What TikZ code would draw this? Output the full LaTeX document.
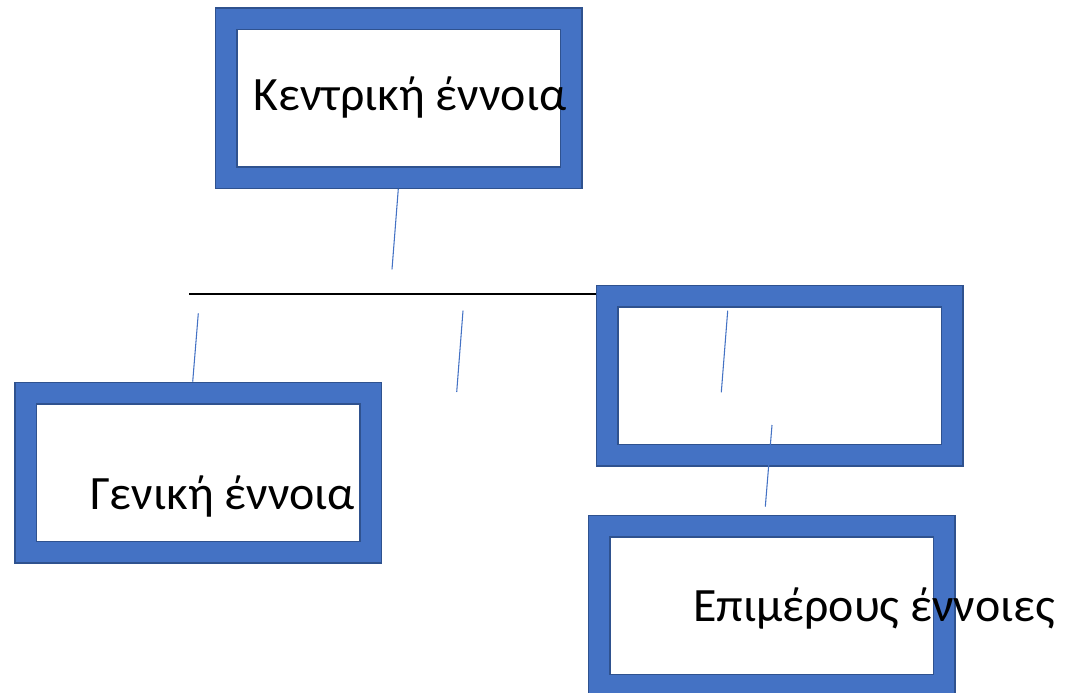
\documentclass[tikz,border=0pt]{standalone}
\usepackage{fontspec}
\setmainfont{Carlito}
\definecolor{boxblue}{HTML}{4472C4}
\definecolor{boxedge}{HTML}{2F528F}
\tikzset{
  conceptbox/.style={rectangle, draw=boxedge, line width=1.125pt, double=boxblue,
    double distance=15pt, fill=white, minimum width=258.75pt, minimum height=119.25pt,
    inner sep=0pt, outer sep=0pt},
  label/.style={anchor=base west, inner sep=0pt, outer sep=0pt,
    font=\fontsize{35.9}{43}\selectfont, text=black},
  link/.style={draw=boxblue, line width=0.8pt},
  bar/.style={draw=black, line width=0.9pt}
}
\begin{document}
\begin{tikzpicture}[x=0.75pt, y=-0.75pt]
\useasboundingbox (0,0) rectangle (1066,692);
% horizontal bar
\coordinate (barL) at (189,294);
\coordinate (barR) at (596,294);
\draw[bar] (barL) -- (barR);
% boxes
\node[conceptbox] (central) at (398.7,98.2) {};
\node[conceptbox] (general) at (198.2,472.5) {};
\node[conceptbox] (middle) at (779.9,375.7) {};
\node[conceptbox] (partial) at (771.7,605.7) {};
% connector segments
\coordinate (a1) at (398.3,188.8);
\coordinate (a2) at (392,269.3);
\coordinate (b1) at (198.3,313.3);
\coordinate (b2) at (192.7,381.7);
\coordinate (c1) at (463,310.7);
\coordinate (c2) at (456.7,392);
\coordinate (d1) at (727.7,310.7);
\coordinate (d2) at (721.3,392.3);
\coordinate (e1) at (772,425);
\coordinate (e2) at (765.3,506.7);
\draw[link] (a1) -- (a2);
\draw[link] (b1) -- (b2);
\draw[link] (c1) -- (c2);
\draw[link] (d1) -- (d2);
\draw[link] (e1) -- (e2);
% texts
\node[label] (t1) at (253.3,110) {Κεντρική έννοια};
\node[label] (t2) at (90,509) {Γενική έννοια};
\node[label] (t3) at (693.3,621.7) {Επιμέρους έννοιες};
\end{tikzpicture}
\end{document}
